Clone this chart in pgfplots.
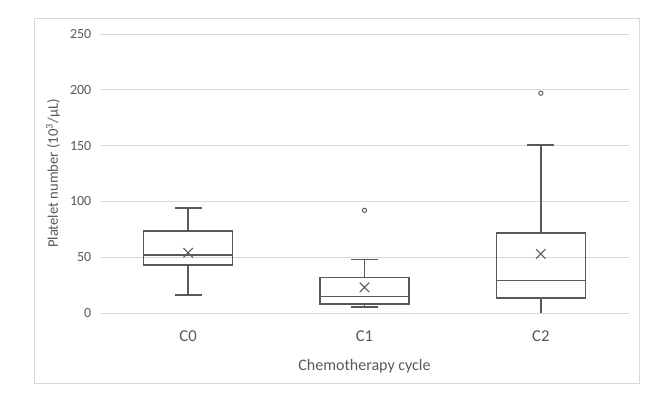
\documentclass[border=0pt]{standalone}
\usepackage{pgfplots}
\pgfplotsset{compat=1.18}
\usepackage{fontspec}
\setmainfont{Carlito}
\definecolor{txt}{HTML}{595959}
\definecolor{grd}{HTML}{D9D9D9}
\definecolor{boxc}{HTML}{595959}
\begin{document}
\begin{tikzpicture}
\path (-75pt,-65.25pt) rectangle (417.75pt,234.75pt);
\draw[grd, line width=0.75pt] (-48.75pt,-52.5pt) rectangle (404.25pt,220.5pt);
\begin{axis}[
  scale only axis,
  width=396.75pt, height=209.25pt,
  xmin=-0.5, xmax=2.5, ymin=0, ymax=250,
  xtick={0,1,2}, xticklabels={C0,C1,C2},
  ytick={0,50,100,150,200,250},
  axis line style={draw=none},
  tick style={draw=none},
  ymajorgrids, major grid style={grd, line width=0.75pt},
  tick label style={text=txt},
  yticklabel style={font=\fontsize{10.5}{12}\selectfont, xshift=-3pt},
  xticklabel style={font=\fontsize{12.5}{14}\selectfont, yshift=-9.5pt},
  /pgf/number format/assume math mode=true,
  xlabel={Chemotherapy cycle},
  ylabel={Platelet number (10\textsuperscript{3}/µL)},
  xlabel style={font=\fontsize{12}{14}\selectfont, text=txt, at={(axis description cs:0.5,-0.19)}, anchor=center},
  ylabel style={font=\fontsize{11}{13}\selectfont, text=txt, at={(axis description cs:-0.0888,0.5)}, anchor=center},
  clip=false,
  unbounded coords=jump,
  boxline/.style={draw=boxc, line width=1.1pt, mark=none, line join=miter},
]
% C0: lw=16, q1=43, med=52, q3=73.5, uw=94
\addplot[boxline] coordinates {(-0.2525,43) (0.2525,43) (0.2525,73.5) (-0.2525,73.5) (-0.2525,43) (0.2525,43)
  (0,nan) (-0.2525,52) (0.2525,52)
  (0,nan) (0,73.5) (0,94) (0,nan) (-0.0765,94) (0.0765,94)
  (0,nan) (0,43) (0,16) (0,nan) (-0.0765,16) (0.0765,16)};
% C1: lw=5.5, q1=8, med=15, q3=32, uw=48
\addplot[boxline] coordinates {(0.7475,8) (1.2525,8) (1.2525,32) (0.7475,32) (0.7475,8) (1.2525,8)
  (1,nan) (0.7475,15) (1.2525,15)
  (1,nan) (1,32) (1,48) (1,nan) (0.9235,48) (1.0765,48)
  (1,nan) (1,8) (1,5.5) (1,nan) (0.9235,5.5) (1.0765,5.5)};
% C2: lw=0, q1=13.5, med=29, q3=71.5, uw=150.5
\addplot[boxline] coordinates {(1.7475,13.5) (2.2525,13.5) (2.2525,71.5) (1.7475,71.5) (1.7475,13.5) (2.2525,13.5)
  (2,nan) (1.7475,29) (2.2525,29)
  (2,nan) (2,71.5) (2,150.5) (2,nan) (1.9235,150.5) (2.0765,150.5)
  (2,nan) (2,13.5) (2,0)};
% means
\addplot[only marks, mark=x, mark size=5pt, draw=boxc, line width=0.8pt] coordinates {(0,54) (1,23) (2,53)};
% outliers
\addplot[only marks, mark=o, mark size=1.6pt, draw=boxc, line width=0.7pt] coordinates {(1,92) (2,197)};
\end{axis}
\end{tikzpicture}
\end{document}
